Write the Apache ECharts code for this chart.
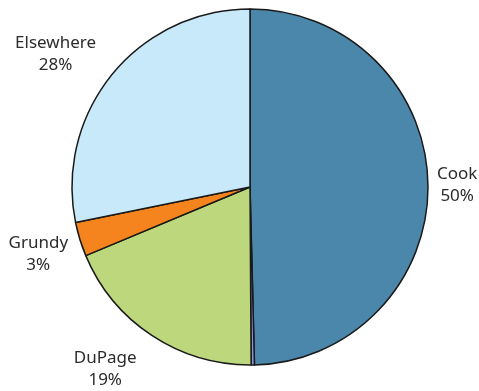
<!DOCTYPE html>
<html>
<head>
<meta charset="utf-8">
<script src="https://cdn.jsdelivr.net/npm/echarts@6/dist/echarts.min.js"></script>
<style>html,body{margin:0;padding:0;background:#fff}#c{width:479px;height:391px}</style>
</head>
<body>
<div id="c"></div>
<script>
const categories = ['Cook', 'Other', 'DuPage', 'Grundy', 'Elsewhere'];
const values = [49.6, 0.3, 18.8, 3.1, 28.2];
const showLabel = [true, false, true, true, true];
const colors = ['#4b87ab', '#8b8fd6', '#bdd87c', '#f5841f', '#c7e9f9'];

// fine label nudges (style only)
const labelNudge = { 2: [-8, 30], 3: [-3, 14], 4: [-8, -18] };

const chart = echarts.init(document.getElementById('c'));
chart.setOption({
  animation: false,
  series: [{
    type: 'pie',
    center: [250, 187],
    radius: 178,
    startAngle: 90,
    clockwise: true,
    avoidLabelOverlap: false,
    itemStyle: { borderColor: '#1a1a1a', borderWidth: 1.5 },
    label: {
      show: true,
      position: 'outside',
      alignTo: 'none',
      distanceToLabelLine: 5,
      color: '#2b2b2b',
      fontFamily: 'Noto Sans',
      fontSize: 17,
      lineHeight: 22,
      formatter: p => '{a|' + p.name + '}\n{a|' + Math.round(p.percent) + '%}',
      rich: { a: { align: 'center', fontFamily: 'Noto Sans', fontSize: 17, lineHeight: 22, color: '#2b2b2b' } }
    },
    labelLine: { show: false, length: 4, length2: 0 },
    labelLayout: p => {
      const n = labelNudge[p.dataIndex];
      return n ? { dx: n[0], dy: n[1] } : {};
    },
    data: categories.map((n, i) => ({
      name: n, value: values[i],
      itemStyle: { color: colors[i] },
      label: { show: showLabel[i] }
    }))
  }]
});
</script>
</body>
</html>
